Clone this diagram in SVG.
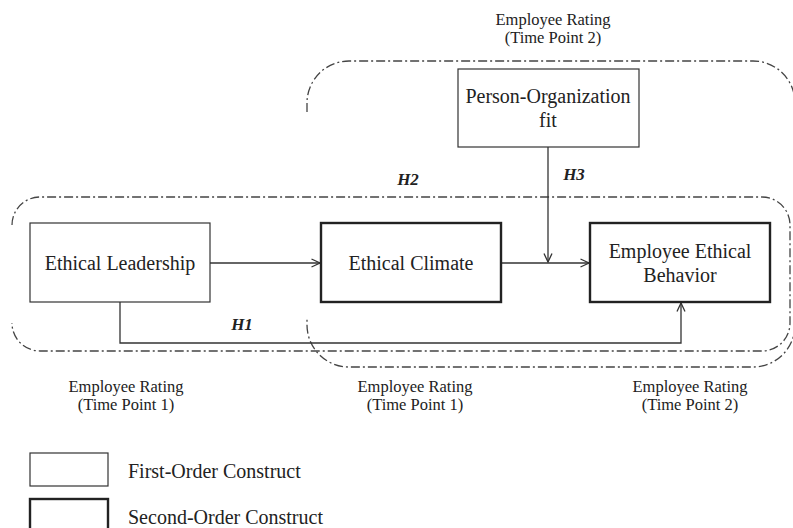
<svg xmlns="http://www.w3.org/2000/svg" width="793" height="528" viewBox="0 0 793 528">
<style>
text{font-family:'Liberation Serif','DejaVu Serif',serif;fill:#222;}
.n{font-size:20px;}
.s{font-size:16.5px;}
.h{font-size:17px;font-weight:bold;font-style:italic;}
.thin{fill:#fff;stroke:#333;stroke-width:1.2;}
.thick{fill:#fff;stroke:#222;stroke-width:2.4;}
.dd{fill:none;stroke:#444;stroke-width:1.3;stroke-dasharray:9 3 2 3;}
.c{fill:none;stroke:#333;stroke-width:1.3;}
</style>
<defs>
<marker id="a" viewBox="0 0 10 10" refX="9.5" refY="5" markerWidth="10" markerHeight="10" markerUnits="userSpaceOnUse" orient="auto">
<path d="M1,1 L9.5,5 L1,9" fill="none" stroke="#333" stroke-width="1.3"/>
</marker>
</defs>
<g id="groups">
<path class="dd" d="M307,112 V103 A42,42 0 0 1 349,61 H753 A42,42 0 0 1 795,103"/>
<path class="dd" d="M795,325 A42,42 0 0 1 753,367 H349 A42,42 0 0 1 307,325 V318"/>
<path class="dd" d="M12,225 A28,28 0 0 1 40,197 H762 A28,28 0 0 1 790,225 V323 A28,28 0 0 1 762,351 H40 A28,28 0 0 1 12,323"/>
</g>
<g id="connectors">
<line class="c" x1="210" y1="263" x2="320" y2="263" marker-end="url(#a)"/>
<line class="c" x1="501" y1="263" x2="589" y2="263" marker-end="url(#a)"/>
<line class="c" x1="548" y1="147" x2="548" y2="262" marker-end="url(#a)"/>
<path class="c" d="M120,302 V343 H681 V303" marker-end="url(#a)"/>
</g>
<g id="node-el">
<rect class="thin" x="30" y="223" width="180" height="79"/>
<text class="n" x="120" y="270" text-anchor="middle" font-family="Liberation Serif, serif">Ethical Leadership</text>
</g>
<g id="node-ec">
<rect class="thick" x="321" y="223" width="180" height="79"/>
<text class="n" x="411" y="270" text-anchor="middle" font-family="Liberation Serif, serif">Ethical Climate</text>
</g>
<g id="node-eeb">
<rect class="thick" x="590" y="223" width="180" height="79"/>
<text class="n" x="680" y="258" text-anchor="middle" font-family="Liberation Serif, serif">Employee Ethical</text>
<text class="n" x="680" y="282" text-anchor="middle" font-family="Liberation Serif, serif">Behavior</text>
</g>
<g id="node-pof">
<rect class="thin" x="458" y="69" width="181" height="78"/>
<text class="n" x="548" y="103" text-anchor="middle" font-family="Liberation Serif, serif">Person-Organization</text>
<text class="n" x="548" y="127" text-anchor="middle" font-family="Liberation Serif, serif">fit</text>
</g>
<g id="labels" font-family="Liberation Serif, serif">
<text class="h" x="408" y="185" text-anchor="middle">H2</text>
<text class="h" x="574" y="180" text-anchor="middle">H3</text>
<text class="h" x="242" y="330" text-anchor="middle">H1</text>
<text class="s" x="553" y="25" text-anchor="middle">Employee Rating</text>
<text class="s" x="553" y="43" text-anchor="middle">(Time Point 2)</text>
<text class="s" x="126" y="392" text-anchor="middle">Employee Rating</text>
<text class="s" x="126" y="410" text-anchor="middle">(Time Point 1)</text>
<text class="s" x="415" y="392" text-anchor="middle">Employee Rating</text>
<text class="s" x="415" y="410" text-anchor="middle">(Time Point 1)</text>
<text class="s" x="690" y="392" text-anchor="middle">Employee Rating</text>
<text class="s" x="690" y="410" text-anchor="middle">(Time Point 2)</text>
</g>
<g id="legend" font-family="Liberation Serif, serif">
<rect class="thin" x="30" y="453" width="78" height="33"/>
<text class="n" x="128" y="478">First-Order Construct</text>
<rect class="thick" x="30" y="499" width="78" height="34"/>
<text class="n" x="128" y="524">Second-Order Construct</text>
</g>
</svg>
